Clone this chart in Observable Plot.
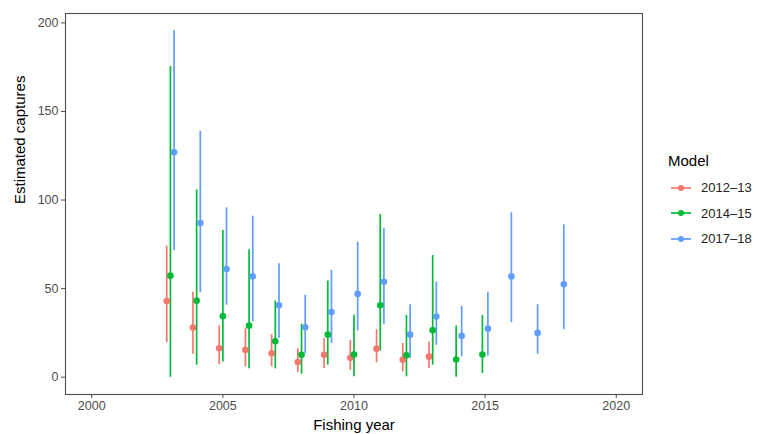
<!DOCTYPE html>
<html>
<head>
<meta charset="utf-8">
<script src="https://cdn.jsdelivr.net/npm/d3@7"></script>
<script src="https://cdn.jsdelivr.net/npm/@observablehq/plot@0.6"></script>
<style>
  html, body { margin: 0; padding: 0; background: #fff; }
  #wrap { position: relative; width: 760px; height: 434px; font-family: "Liberation Sans", Arial, sans-serif; }
  #legend { position: absolute; left: 668px; top: 152px; font-family: inherit; }
  #legend .title { font-size: 15px; color: #000; margin-bottom: 6px; }
  #legend .item { display: flex; align-items: center; height: 25.5px; font-size: 13px; color: #222; }
  #legend svg { margin-right: 9px; }
</style>
</head>
<body>
<div id="wrap"></div>
<script>
const models = ["2012\u201313", "2014\u201315", "2017\u201318"];
const colors = ["#F8766D", "#00BA38", "#619CFF"];

const years2012 = [2003, 2004, 2005, 2006, 2007, 2008, 2009, 2010, 2011, 2012, 2013];
const est2012 = [43, 28, 16.3, 15.4, 13.5, 8.6, 12.6, 10.9, 16.1, 9.8, 11.6];
const lo2012  = [19.5, 13, 7.1, 5.8, 5.8, 2.6, 4.9, 3.9, 8.1, 3, 4.9];
const hi2012  = [74, 48, 28.9, 27.4, 24, 16.1, 21.8, 20.8, 26.8, 19, 19.9];

const years2014 = [2003, 2004, 2005, 2006, 2007, 2008, 2009, 2010, 2011, 2012, 2013, 2014, 2015];
const est2014 = [57.3, 43.2, 34.4, 29.1, 20.3, 12.6, 24, 12.8, 40.6, 12.4, 26.5, 10, 12.8];
const lo2014  = [0, 6.8, 8.6, 4.7, 4.7, 1.7, 6.8, 0.2, 14.8, 0.2, 6.8, 0, 2.1];
const hi2014  = [175.4, 105.7, 82.8, 71.9, 43, 29.9, 54.3, 34.9, 91.8, 34.9, 68.7, 28.9, 34.9];

const years2017 = [2003, 2004, 2005, 2006, 2007, 2008, 2009, 2010, 2011, 2012, 2013, 2014, 2015, 2016, 2017, 2018];
const est2017 = [127, 87, 61, 56.9, 40.6, 28.2, 36.8, 47, 53.9, 24, 34.2, 23.3, 27.4, 56.9, 25, 52.4];
const lo2017  = [71.5, 47.7, 40.6, 31.2, 21.8, 13.3, 19, 26.1, 29.9, 10.5, 18, 11.5, 12, 30.8, 13, 26.8];
const hi2017  = [195.5, 138.8, 95.6, 90.9, 64, 46.2, 60.3, 76.2, 83.8, 40.9, 53.7, 40, 48, 92.8, 40.9, 86];

const xTicks = [2000, 2005, 2010, 2015, 2020];
const yTicks = [0, 50, 100, 150, 200];

// build table
const series = [
  [models[0], years2012, est2012, lo2012, hi2012],
  [models[1], years2014, est2014, lo2014, hi2014],
  [models[2], years2017, est2017, lo2017, hi2017]
];
const rows = [];
for (const [model, yrs, est, lo, hi] of series) {
  yrs.forEach((yr, i) => rows.push({model, year: yr, est: est[i], lo: lo[i], hi: hi[i]}));
}
// dodge like ggplot position_dodge(width = 0.42)
const dodgeWidth = 0.42;
const byYear = d3.group(rows, d => d.year);
for (const [yr, grp] of byYear) {
  grp.sort((a, b) => models.indexOf(a.model) - models.indexOf(b.model));
  const n = grp.length;
  grp.forEach((d, i) => { d.xd = yr + (i - (n - 1) / 2) * dodgeWidth / n; });
}

const font = '"Liberation Sans", Arial, sans-serif';

const chart = Plot.plot({
  width: 760,
  height: 434,
  marginLeft: 65,
  marginRight: 118,
  marginTop: 13,
  marginBottom: 40,
  style: { fontFamily: font, background: "#fff" },
  x: { domain: [1999, 2021], ticks: xTicks },
  y: { domain: [-9.78, 205.3], ticks: yTicks },
  color: { domain: models, range: colors },
  marks: [
    Plot.frame({ stroke: "#4d4d4d", strokeWidth: 1.1 }),
    Plot.axisX({ ticks: xTicks, tickFormat: d => String(d), tickSize: 4, tickPadding: 3, fontSize: 12.5, color: "#4d4d4d", label: null }),
    Plot.axisY({ ticks: yTicks, tickSize: 4, tickPadding: 3, fontSize: 12.5, color: "#4d4d4d", label: null }),
    Plot.ruleX(rows, { x: "xd", y1: "lo", y2: "hi", stroke: "model", strokeWidth: 1.7 }),
    Plot.dot(rows, { x: "xd", y: "est", fill: "model", r: 3.3, stroke: "none" }),
    Plot.text(["Fishing year"], { frameAnchor: "bottom", lineAnchor: "middle", dy: 31, fontSize: 15, fill: "#000" }),
    Plot.text(["Estimated captures"], { frameAnchor: "left", lineAnchor: "middle", dx: -45, rotate: -90, fontSize: 15, fill: "#000" })
  ]
});

const wrap = document.getElementById("wrap");
wrap.appendChild(chart);

// legend
const legend = document.createElement("div");
legend.id = "legend";
const t = document.createElement("div");
t.className = "title";
t.textContent = "Model";
legend.appendChild(t);
models.forEach((m, i) => {
  const item = document.createElement("div");
  item.className = "item";
  item.innerHTML = `<svg width="24" height="14"><line x1="3" x2="23" y1="7" y2="7" stroke="${colors[i]}" stroke-width="1.7"/><circle cx="13" cy="7" r="3" fill="${colors[i]}"/></svg><span>${m}</span>`;
  legend.appendChild(item);
});
wrap.appendChild(legend);
</script>
</body>
</html>
